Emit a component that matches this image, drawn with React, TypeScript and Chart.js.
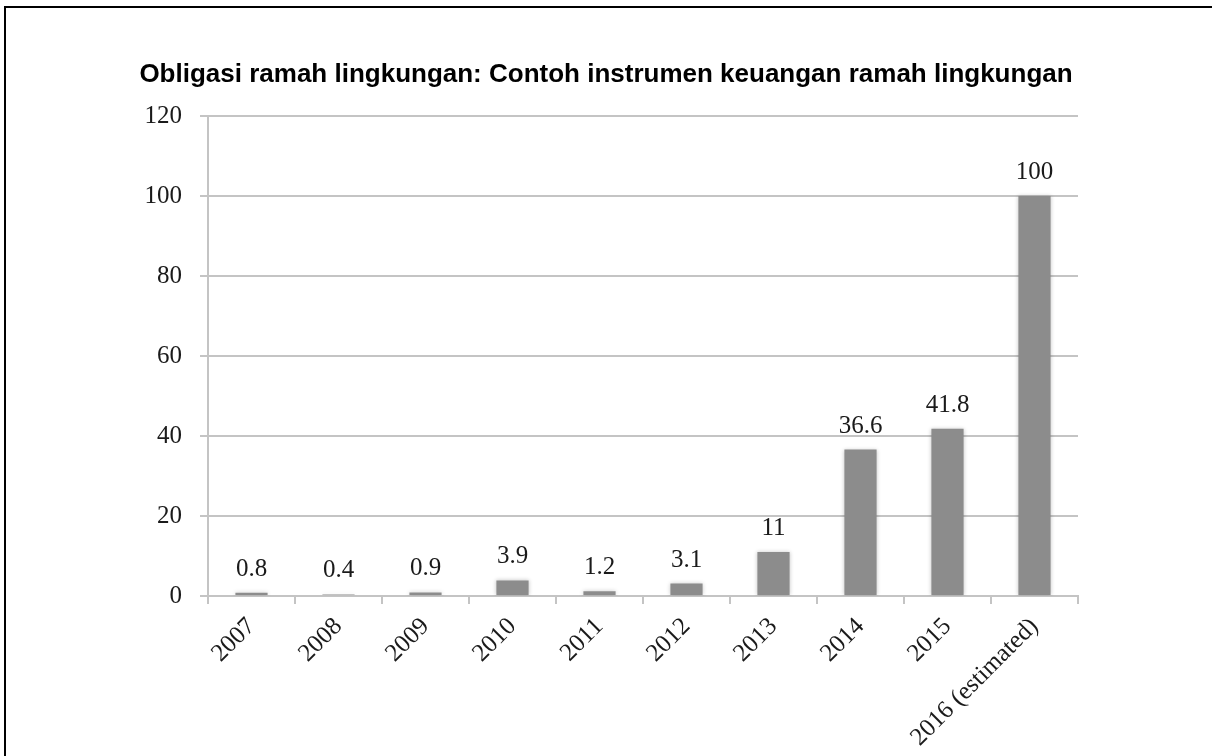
import React, { useEffect, useRef } from "react";
import { Chart, registerables } from "chart.js";

Chart.register(...registerables);

const TITLE = "Obligasi ramah lingkungan: Contoh instrumen keuangan ramah lingkungan";
const categories = ["2007", "2008", "2009", "2010", "2011", "2012", "2013", "2014", "2015", "2016 (estimated)"];
const values = [0.8, 0.4, 0.9, 3.9, 1.2, 3.1, 11, 36.6, 41.8, 100];
const yTicks = [0, 20, 40, 60, 80, 100, 120];

const W = 1212;
const H = 756;
const SERIF = "'Liberation Serif', 'Times New Roman', serif";

const titlePlugin = {
  id: "customTitle",
  afterDraw(chart: any) {
    const ctx = chart.ctx;
    ctx.save();
    ctx.font = "bold 26px 'Liberation Sans', Arial, sans-serif";
    ctx.fillStyle = "#000";
    ctx.textAlign = "center";
    ctx.textBaseline = "alphabetic";
    ctx.fillText(TITLE, 606, 82);
    ctx.restore();
  },
};

const labelPlugin = {
  id: "valueLabels",
  afterDatasetsDraw(chart: any) {
    const ctx = chart.ctx;
    const meta = chart.getDatasetMeta(0);
    ctx.save();
    ctx.font = `25px ${SERIF}`;
    ctx.fillStyle = "#1a1a1a";
    ctx.textAlign = "center";
    ctx.textBaseline = "alphabetic";
    meta.data.forEach((bar: any, i: number) => {
      ctx.fillText(String(values[i]), bar.x, bar.y - 17);
    });
    ctx.restore();
  },
};

const shadowPlugin = {
  id: "barShadow",
  beforeDatasetsDraw(chart: any) {
    const ctx = chart.ctx;
    ctx.save();
    ctx.shadowColor = "rgba(0,0,0,0.22)";
    ctx.shadowBlur = 4;
  },
  afterDatasetsDraw(chart: any) {
    chart.ctx.restore();
  },
};

export default function App() {
  const ref = useRef<HTMLCanvasElement | null>(null);
  useEffect(() => {
    if (!ref.current) return;
    const chart = new Chart(ref.current, {
      type: "bar",
      data: {
        labels: categories,
        datasets: [
          {
            data: values,
            backgroundColor: "#8c8c8c",
            borderWidth: 0,
            categoryPercentage: 1,
            barPercentage: 0.37,
          },
        ],
      },
      options: {
        responsive: false,
        animation: false,
        devicePixelRatio: 1,
        layout: { padding: { left: 0, right: 134, top: 116, bottom: 0 } },
        plugins: {
          legend: { display: false },
          title: { display: false },
          tooltip: { enabled: false },
        },
        scales: {
          x: {
            afterFit(scale: any) {
              scale.height = H - 596;
            },
            grid: {
              offset: true,
              drawOnChartArea: false,
              drawTicks: true,
              tickLength: 8,
              color: "#c4c4c4",
              lineWidth: 2,
            },
            border: { display: true, color: "#c4c4c4", width: 2 },
            ticks: {
              minRotation: 45,
              maxRotation: 45,
              autoSkip: false,
              padding: 8,
              color: "#1a1a1a",
              font: { family: SERIF, size: 25 },
            },
          },
          y: {
            min: 0,
            max: 120,
            afterFit(scale: any) {
              scale.width = 208;
            },
            afterBuildTicks(scale: any) {
              scale.ticks = yTicks.map((v) => ({ value: v }));
            },
            grid: {
              color: "#c4c4c4",
              lineWidth: 2,
              drawTicks: true,
              tickLength: 8,
            },
            border: { display: true, color: "#c4c4c4", width: 2 },
            ticks: {
              padding: 18,
              color: "#1a1a1a",
              font: { family: SERIF, size: 25 },
            },
          },
        },
      },
      plugins: [shadowPlugin, labelPlugin, titlePlugin],
    });
    return () => chart.destroy();
  }, []);

  return (
    <div style={{ position: "absolute", left: 0, top: 0, width: W, height: H, overflow: "hidden", background: "#fff" }}>
      <canvas ref={ref} width={W} height={H} style={{ position: "absolute", left: 0, top: 0, width: W, height: H }} />
      <div
        style={{
          position: "absolute",
          left: 4,
          top: 6,
          width: W - 4,
          height: H,
          borderLeft: "2px solid #000",
          borderTop: "2px solid #000",
          boxSizing: "border-box",
          pointerEvents: "none",
        }}
      />
    </div>
  );
}
